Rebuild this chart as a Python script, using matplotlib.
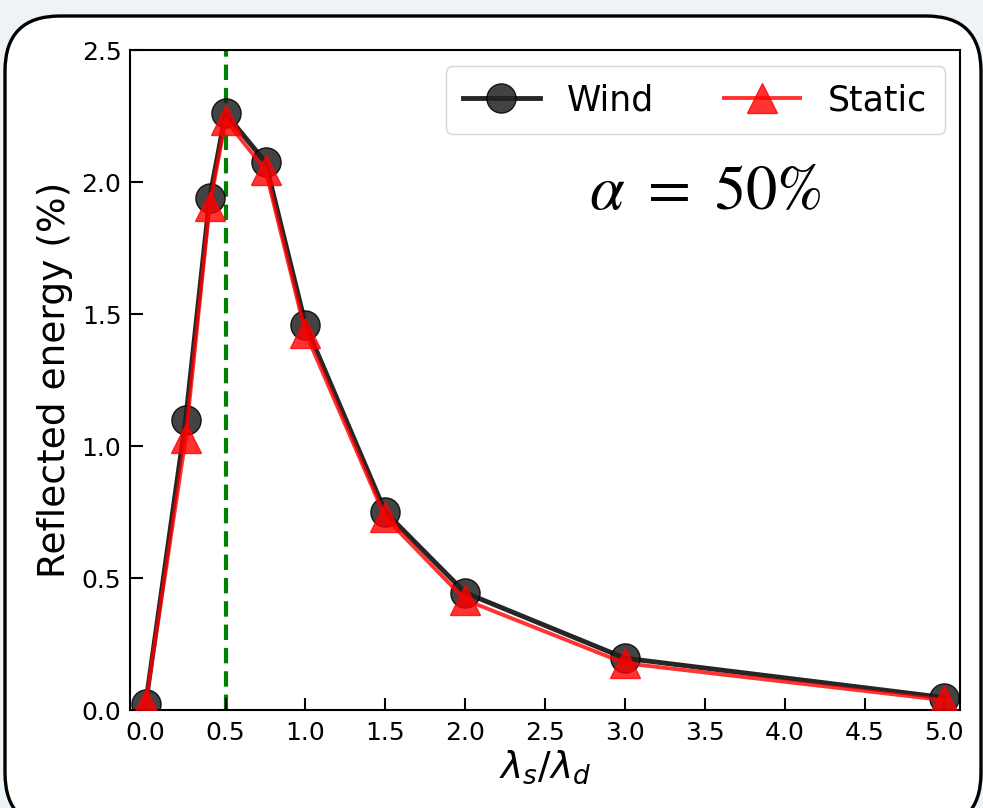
import numpy as np
import matplotlib.pyplot as plt
from matplotlib.patches import FancyBboxPatch

# data
ratio = [0.0, 0.25, 0.4, 0.5, 0.75, 1.0, 1.5, 2.0, 3.0, 5.0]
wind = [0.025, 1.10, 1.94, 2.26, 2.075, 1.46, 0.75, 0.445, 0.197, 0.048]
static = [0.025, 1.03, 1.91, 2.235, 2.045, 1.43, 0.73, 0.418, 0.178, 0.038]
peak = 0.5

fig = plt.figure(figsize=(9.83, 8.08), dpi=100)
fig.patch.set_facecolor('#eef3f7')

# rounded white panel behind the chart (pixel coords)
panel = FancyBboxPatch((5, -20), 976, 812, boxstyle='round,pad=0,rounding_size=55',
                       transform=None, facecolor='white', edgecolor='black',
                       linewidth=2.4, zorder=-10)
fig.patches.append(panel)

ax = fig.add_axes([0.132, 0.121, 0.845, 0.817])

ax.axvline(peak, color='green', linestyle='--', linewidth=3, dashes=(3.7, 1.9), zorder=1)
ax.plot(ratio, wind, color='black', marker='o', markersize=21, linewidth=3.5,
        markerfacecolor='#222222', alpha=0.85, label='Wind', zorder=2)
ax.plot(ratio, static, color='red', marker='^', markersize=21, linewidth=2.8,
        alpha=0.8, label='Static', zorder=3)

ax.set_xlim(-0.1, 5.1)
ax.set_ylim(0, 2.5)
ax.set_xticks(np.arange(0, 5.01, 0.5))
ax.set_yticks(np.arange(0, 2.51, 0.5))
ax.tick_params(direction='in', length=9, width=1.5, labelsize=18)
ax.tick_params(axis='x', pad=8)
ax.tick_params(axis='y', pad=6)
for s in ax.spines.values():
    s.set_linewidth(1.5)

ax.set_xlabel(r'$\lambda_s/\lambda_d$', fontsize=27, labelpad=2)
ax.set_ylabel('Reflected energy (%)', fontsize=27, labelpad=6)

ax.legend(loc='upper right', ncol=2, fontsize=25, borderaxespad=0.45, borderpad=0.5,
          handlelength=2.2, handletextpad=0.8, columnspacing=2.0)
ax.text(0.693, 0.785, r'$\alpha\ =\ 50\%$', transform=ax.transAxes, fontsize=45,
        math_fontfamily='stix', ha='center', va='center')

fig.savefig('out.png', dpi=100, facecolor=fig.get_facecolor())
